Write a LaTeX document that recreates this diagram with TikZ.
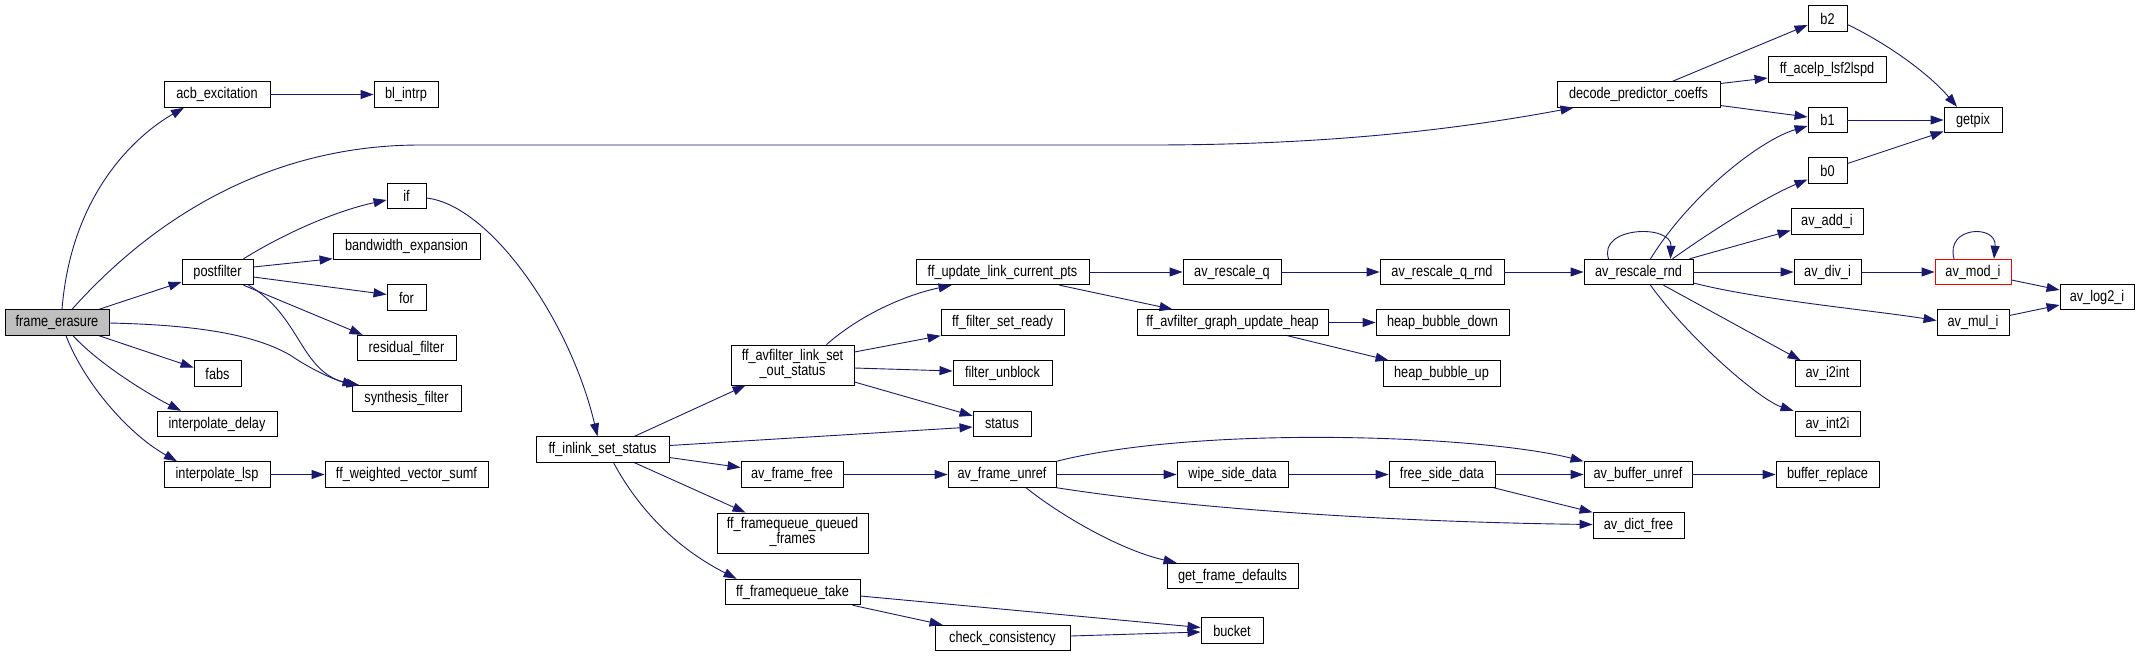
\documentclass[tikz,border=0pt]{standalone}
\usepackage{fontspec}
\setmainfont{Liberation Sans}
\usetikzlibrary{arrows.meta,calc}
\definecolor{edgec}{RGB}{25,25,112}
\definecolor{fegray}{RGB}{191,191,191}
\newcommand{\NT}[1]{\scalebox{0.82}[1]{#1}}
\newcommand{\NTT}[2]{\scalebox{0.82}[1]{\begin{tabular}{@{}c@{}}#1\\[-1pt]#2\end{tabular}}}
\begin{document}
\begin{tikzpicture}[x=1pt,y=-1pt,
  font=\fontsize{15.5}{16}\selectfont,
  fn/.style={draw=black, line width=0.9pt, fill=white, inner sep=0pt, minimum height=25.5pt, align=center},
  ed/.style={draw=edgec, line width=0.9pt, -{Triangle[length=13pt,width=9pt]}}]
\fill[white] (0,0) rectangle (2136,657);
\useasboundingbox (0,0) rectangle (2136,657);
% nodes
\node[fn, fill=fegray, minimum width=104pt] (fe) at (57,322.5) {\NT{frame\_erasure}};
\node[fn, minimum width=106pt] (acb) at (217,94.5) {\NT{acb\_excitation}};
\node[fn, minimum width=64pt] (blintrp) at (406,94.5) {\NT{bl\_intrp}};
\node[fn, minimum width=163pt] (dpc) at (1638.5,94.5) {\NT{decode\_predictor\_coeffs}};
\node[fn, minimum width=71pt] (postf) at (217.5,272) {\NT{postfilter}};
\node[fn, minimum width=39pt] (ifn) at (406.5,196) {\NT{if}};
\node[fn, minimum width=147pt] (bwe) at (406.5,246.5) {\NT{bandwidth\_expansion}};
\node[fn, minimum width=39pt] (forn) at (406.5,297.5) {\NT{for}};
\node[fn, minimum width=99pt] (resf) at (406.5,348) {\NT{residual\_filter}};
\node[fn, minimum width=47pt] (fabs) at (217.5,373.5) {\NT{fabs}};
\node[fn, minimum width=109pt] (synf) at (406.5,398.5) {\NT{synthesis\_filter}};
\node[fn, minimum width=120pt] (idel) at (217,424) {\NT{interpolate\_delay}};
\node[fn, minimum width=106pt] (ilsp) at (217,474.5) {\NT{interpolate\_lsp}};
\node[fn, minimum width=163pt] (wvs) at (406.5,474.5) {\NT{ff\_weighted\_vector\_sumf}};
\node[fn, minimum width=133pt] (inlink) at (602.5,449.5) {\NT{ff\_inlink\_set\_status}};
\node[fn, minimum width=123pt, minimum height=40pt] (lso) at (792.5,365) {\NTT{ff\_avfilter\_link\_set}{\_out\_status}};
\node[fn, minimum width=173pt] (ulcp) at (1002.5,272) {\NT{ff\_update\_link\_current\_pts}};
\node[fn, minimum width=123pt] (fsr) at (1002.5,322.5) {\NT{ff\_filter\_set\_ready}};
\node[fn, minimum width=99pt] (funb) at (1002.5,373) {\NT{filter\_unblock}};
\node[fn, minimum width=58pt] (status) at (1002,424) {\NT{status}};
\node[fn, minimum width=102pt] (aff) at (792,474.5) {\NT{av\_frame\_free}};
\node[fn, minimum width=108pt] (afu) at (1002,474.5) {\NT{av\_frame\_unref}};
\node[fn, minimum width=151pt, minimum height=40pt] (fqq) at (792.5,533) {\NTT{ff\_framequeue\_queued}{\_frames}};
\node[fn, minimum width=135pt] (fqt) at (792.5,592) {\NT{ff\_framequeue\_take}};
\node[fn, minimum width=135pt] (cc) at (1002.5,638) {\NT{check\_consistency}};
\node[fn, minimum width=62pt] (bucket) at (1232,630.5) {\NT{bucket}};
\node[fn, minimum width=131pt] (gfd) at (1232.5,576) {\NT{get\_frame\_defaults}};
\node[fn, minimum width=98pt] (arq) at (1232,272) {\NT{av\_rescale\_q}};
\node[fn, minimum width=191pt] (uheap) at (1232.5,322.5) {\NT{ff\_avfilter\_graph\_update\_heap}};
\node[fn, minimum width=111pt] (wsd) at (1232.5,474.5) {\NT{wipe\_side\_data}};
\node[fn, minimum width=124pt] (arqr) at (1442,272) {\NT{av\_rescale\_q\_rnd}};
\node[fn, minimum width=133pt] (hbd) at (1442.5,322.5) {\NT{heap\_bubble\_down}};
\node[fn, minimum width=117pt] (hbu) at (1441.5,373.5) {\NT{heap\_bubble\_up}};
\node[fn, minimum width=106pt] (fsd) at (1442,474.5) {\NT{free\_side\_data}};
\node[fn, minimum width=109pt] (arr) at (1638.5,272) {\NT{av\_rescale\_rnd}};
\node[fn, minimum width=108pt] (abu) at (1638,474.5) {\NT{av\_buffer\_unref}};
\node[fn, minimum width=91pt] (adf) at (1638.5,525.5) {\NT{av\_dict\_free}};
\node[fn, minimum width=39pt] (b2) at (1827.5,18.5) {\NT{b2}};
\node[fn, minimum width=118pt] (lsf) at (1827,69.5) {\NT{ff\_acelp\_lsf2lspd}};
\node[fn, minimum width=39pt] (b1) at (1827.5,120) {\NT{b1}};
\node[fn, minimum width=39pt] (b0) at (1827.5,170.5) {\NT{b0}};
\node[fn, minimum width=72pt] (addi) at (1827,221.5) {\NT{av\_add\_i}};
\node[fn, minimum width=67pt] (divi) at (1827.5,272) {\NT{av\_div\_i}};
\node[fn, minimum width=65pt] (i2int) at (1827.5,373.5) {\NT{av\_i2int}};
\node[fn, minimum width=65pt] (int2i) at (1827.5,424) {\NT{av\_int2i}};
\node[fn, minimum width=103pt] (brep) at (1827.5,474.5) {\NT{buffer\_replace}};
\node[fn, minimum width=58pt] (getpix) at (1973,120) {\NT{getpix}};
\node[fn, draw=red, minimum width=76pt] (modi) at (1973,272) {\NT{av\_mod\_i}};
\node[fn, minimum width=72pt] (muli) at (1973,322.5) {\NT{av\_mul\_i}};
\node[fn, minimum width=74pt] (log2i) at (2097,297) {\NT{av\_log2\_i}};
% edges from frame_erasure
\draw[ed] ($(fe.north)+(5,0)$) .. controls (72,185) and (145,130) .. ($(acb.south)+(-33,0)$);
\draw[ed] ($(fe.north)+(15,0)$) .. controls (170,200) and (290,145) .. (420,145) -- (1150,145) .. controls (1350,145) and (1480,125) .. ($(dpc.south west)+(17,0)$);
\draw[ed] ($(fe.north)+(42,0)$) -- ($(postf.west)+(0,10)$);
\draw[ed] ($(fe.east)+(0,0.5)$) .. controls (200,325) and (255,335) .. (290,355) .. controls (315,372) and (340,382) .. ($(synf.north west)+(8,0)$);
\draw[ed] ($(fe.south)+(42,0)$) -- ($(fabs.west)+(0,-6)$);
\draw[ed] ($(fe.south)+(16,0)$) .. controls (100,365) and (150,395) .. ($(idel.north)+(-36,0)$);
\draw[ed] ($(fe.south)+(9,0)$) .. controls (85,385) and (130,435) .. ($(ilsp.north)+(-40,0)$);
% postfilter
\draw[ed] ($(postf.north)+(26,0)$) .. controls (290,230) and (340,210) .. ($(ifn.west)+(0,4)$);
\draw[ed] ($(postf.east)+(0,-5)$) -- ($(bwe.south west)+(0,-1)$);
\draw[ed] ($(postf.east)+(0,5)$) -- ($(forn.west)+(0,-3)$);
\draw[ed] ($(postf.south)+(26,0)$) -- ($(resf.north west)+(6,0)$);
\draw[ed] ($(postf.south)+(31,0)$) .. controls (300,315) and (300,370) .. ($(synf.north west)+(4,0)$);
\draw[ed] (acb) -- (blintrp);
\draw[ed] (ilsp) -- (wvs);
% if
\draw[ed] ($(ifn.east)+(0,2)$) .. controls (490,205) and (570,320) .. ($(inlink.north)+(-5,0)$);
% inlink
\draw[ed] ($(inlink.north)+(32,0)$) -- ($(lso.south west)+(15,0)$);
\draw[ed] ($(inlink.east)+(0,-4)$) -- ($(status.west)+(0,3)$);
\draw[ed] ($(inlink.east)+(0,8)$) -- ($(aff.west)+(0,-7)$);
\draw[ed] ($(inlink.south)+(32,0)$) -- ($(fqq.north west)+(29,0)$);
\draw[ed] ($(inlink.south)+(11,0)$) .. controls (650,530) and (700,560) .. ($(fqt.north west)+(12,0)$);
% link_set_out_status
\draw[ed] ($(lso.north)+(34,0)$) .. controls (860,315) and (905,295) .. ($(ulcp.south west)+(36,0)$);
\draw[ed] ($(lso.east)+(0,-13)$) -- (fsr.south west);
\draw[ed] ($(lso.east)+(0,3)$) -- ($(funb.west)+(0,-2)$);
\draw[ed] ($(lso.east)+(0,17)$) -- ($(status.north west)+(0,5)$);
% update link
\draw[ed] (ulcp) -- (arq);
\draw[ed] ($(ulcp.south)+(57,0)$) -- ($(uheap.north west)+(36,0)$);
\draw[ed] (arq) -- (arqr);
\draw[ed] (uheap) -- (hbd);
\draw[ed] ($(uheap.south)+(55,0)$) -- ($(hbu.north west)+(6,0)$);
% frame free chain
\draw[ed] (aff) -- (afu);
\draw[ed] (afu) -- (wsd);
\draw[ed] (wsd) -- (fsd);
\draw[ed] (fsd) -- (abu);
\draw[ed] (abu) -- (brep);
\draw[ed] (afu.north east) .. controls (1200,425) and (1480,435) .. (abu.north west);
\draw[ed] (afu.south east) .. controls (1200,510) and (1400,522) .. ($(adf.west)+(0,-1)$);
\draw[ed] ($(afu.south)+(24,0)$) .. controls (1060,515) and (1120,550) .. ($(gfd.north west)+(10,0)$);
\draw[ed] ($(fsd.south east)+(-2,0)$) -- (adf.north west);
% framequeue
\draw[ed] ($(fqt.east)+(0,4)$) -- ($(bucket.west)+(0,-3)$);
\draw[ed] ($(fqt.south east)+(-8,0)$) -- ($(cc.north west)+(8,0)$);
\draw[ed] ($(cc.east)+(0,-2)$) -- ($(bucket.west)+(0,1.5)$);
% rescale
\draw[ed] (arqr) -- (arr);
\draw[ed] ($(arr.north)+(-30,0)$) .. controls (1598,226) and (1672,224) .. ($(arr.north)+(32,0)$);
\draw[ed] ($(arr.north)+(12,0)$) .. controls (1690,195) and (1760,140) .. ($(b1.west)+(0,6)$);
\draw[ed] ($(arr.north)+(34,0)$) .. controls (1720,225) and (1770,195) .. ($(b0.west)+(0,9)$);
\draw[ed] ($(arr.north)+(51,0)$) -- ($(addi.west)+(0,9)$);
\draw[ed] (arr) -- (divi);
\draw[ed] ($(arr.east)+(0,11)$) .. controls (1760,300) and (1870,310) .. ($(muli.west)+(0,-2)$);
\draw[ed] ($(arr.south)+(25,0)$) -- ($(i2int.north west)+(6,0)$);
\draw[ed] ($(arr.south)+(12,0)$) .. controls (1690,340) and (1760,400) .. ($(int2i.north west)+(-1,0)$);
% decode predictor
\draw[ed] ($(dpc.north)+(34,0)$) -- ($(b2.west)+(0,6.5)$);
\draw[ed] ($(dpc.east)+(0,-11)$) -- ($(lsf.west)+(0,8.5)$);
\draw[ed] ($(dpc.east)+(0,11)$) -- ($(b1.west)+(0,-3)$);
\draw[ed] ($(b2.east)+(0,6)$) .. controls (1890,45) and (1930,75) .. ($(getpix.north)+(-16,0)$);
\draw[ed] (b1) -- (getpix);
\draw[ed] ($(b0.east)+(0,-7)$) -- ($(getpix.west)+(0,11.5)$);
% div / mod / mul
\draw[ed] (divi) -- (modi);
\draw[ed] ($(modi.north)+(-19,0)$) .. controls (1945,226) and (1997,224) .. ($(modi.north)+(21,0)$);
\draw[ed] ($(modi.east)+(0,8)$) -- ($(log2i.west)+(0,-7)$);
\draw[ed] ($(muli.east)+(0,-7)$) -- ($(log2i.west)+(0,8)$);
\end{tikzpicture}
\end{document}
